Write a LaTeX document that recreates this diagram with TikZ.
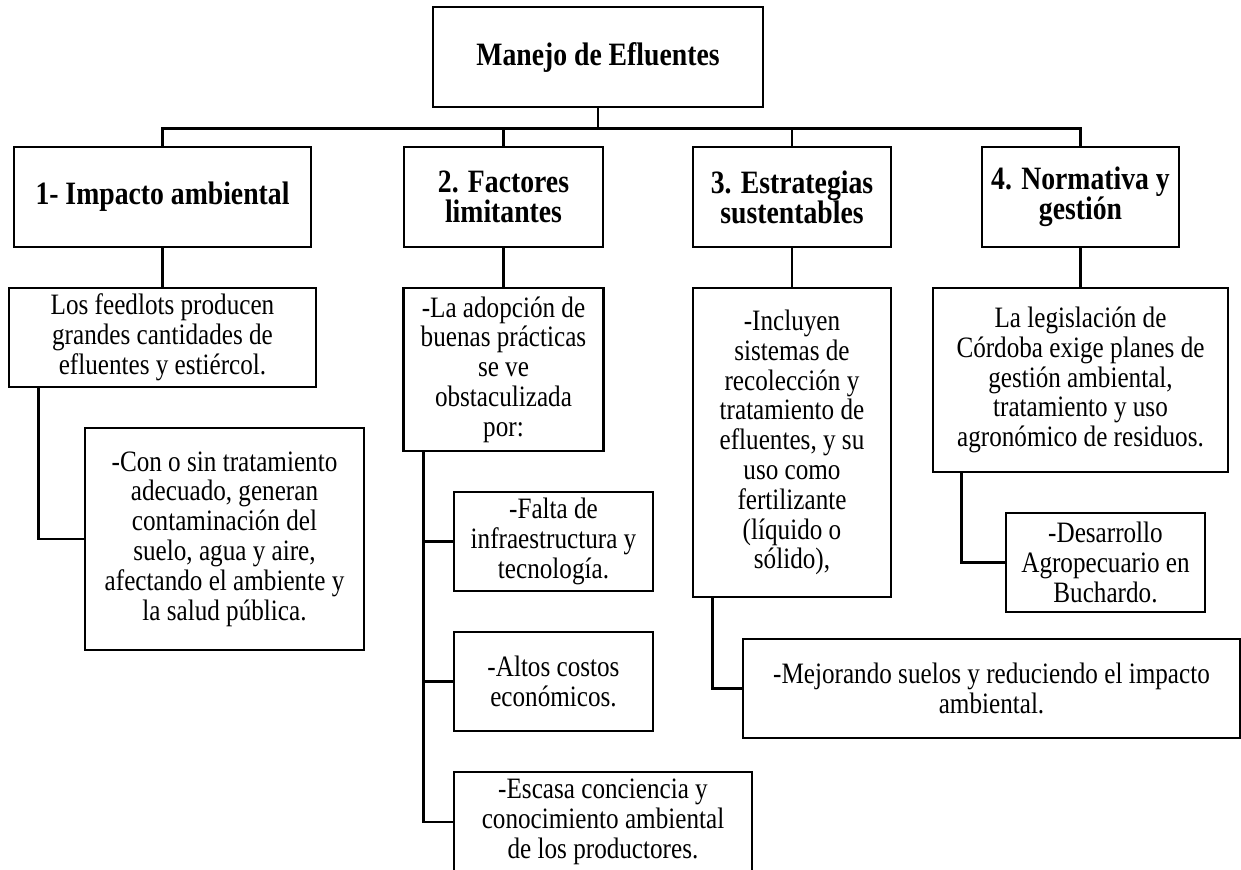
\documentclass[tikz,border=0pt]{standalone}
\usepackage{fontspec}
\setmainfont{Liberation Serif}[FakeStretch=0.85]

\tikzset{
  box/.style={draw, line width=1.3pt, align=center, inner sep=2pt,
    font=\fontsize{14.8}{14.9}\selectfont},
  head/.style={box, font=\fontsize{16.3}{15}\selectfont\bfseries},
  link/.style={line width=1.3pt}
}

\begin{document}
\begin{tikzpicture}[x=0.5pt,y=-0.5pt]
\useasboundingbox (0,0) rectangle (1241,869);

% top
\node[head, minimum width=165pt, minimum height=50pt] (root) at (598,57) {Manejo de Efluentes};

% main branches
\node[head, minimum width=148.5pt, minimum height=50pt] (b1) at (162.5,197) {1- Impacto ambiental};
\node[head, minimum width=99.5pt, minimum height=50pt] (b2) at (503.5,197) {2. Factores\\limitantes};
\node[head, minimum width=99pt, minimum height=50pt] (b3) at (792,197) {3. Estrategias\\sustentables};
\node[head, minimum width=98.5pt, minimum height=50pt] (b4) at (1080.5,197) {4. Normativa y\\gestión};

% second level
\node[box, minimum width=153.5pt, minimum height=49.5pt] (c1) at (162.5,337.5)
  {Los feedlots producen\\grandes cantidades de\\efluentes y estiércol.};
\node[box, minimum width=100pt, minimum height=81.5pt] (c2) at (503.5,369.5)
  {-La adopción de\\buenas prácticas\\se ve\\obstaculizada\\por:};
\node[box, minimum width=99pt, minimum height=154.5pt] (c3) at (792,442.5)
  {-Incluyen\\sistemas de\\recolección y\\tratamiento de\\efluentes, y su\\uso como\\fertilizante\\(líquido o\\sólido),};
\node[box, minimum width=147.5pt, minimum height=92pt] (c4) at (1080.5,380)
  {La legislación de\\Córdoba exige planes de\\gestión ambiental,\\tratamiento y uso\\agronómico de residuos.};

% third level
\node[box, minimum width=139.5pt, minimum height=111pt] (d1) at (224.5,539)
  {-Con o sin tratamiento\\adecuado, generan\\contaminación del\\suelo, agua y aire,\\afectando el ambiente y\\la salud pública.};
\node[box, minimum width=99.5pt, minimum height=49.5pt] (f1) at (553.5,541.5)
  {-Falta de\\infraestructura y\\tecnología.};
\node[box, minimum width=99.5pt, minimum height=49.5pt] (f2) at (553.5,681.5)
  {-Altos costos\\económicos.};
\node[box, minimum width=149pt, minimum height=50pt] (f3) at (603,822)
  {-Escasa conciencia y\\conocimiento ambiental\\de los productores.};
\node[box, minimum width=248.5pt, minimum height=49.5pt] (m1) at (991.5,688.5)
  {-Mejorando suelos y reduciendo el impacto\\ambiental.};
\node[box, minimum width=99.5pt, minimum height=49.5pt] (g1) at (1105.5,562.5)
  {-Desarrollo\\Agropecuario en\\Buchardo.};

% connectors
\path (root.south) ++(0,20) coordinate (bus);
\draw[link] (root.south) -- (bus);
\draw[link] (b1.north) |- (bus) -| (b4.north);
\draw[link] (b2.north) -- (b2.north |- bus);
\draw[link] (b3.north) -- (b3.north |- bus);
\foreach \i in {1,2,3,4}
  \draw[link] (b\i.south) -- (c\i.north);

\draw[link] ([xshift=15.5pt]c1.south west) |- (d1.west);
\coordinate (c2l) at ([xshift=10.5pt]c2.south west);
\draw[link] (c2l) |- (f3.west);
\foreach \n in {f1,f2}
  \draw[link] (\n.west) -- (\n.west -| c2l);
\draw[link] ([xshift=10.5pt]c3.south west) |- (m1.west);
\draw[link] ([xshift=15pt]c4.south west) |- (g1.west);
\end{tikzpicture}
\end{document}
